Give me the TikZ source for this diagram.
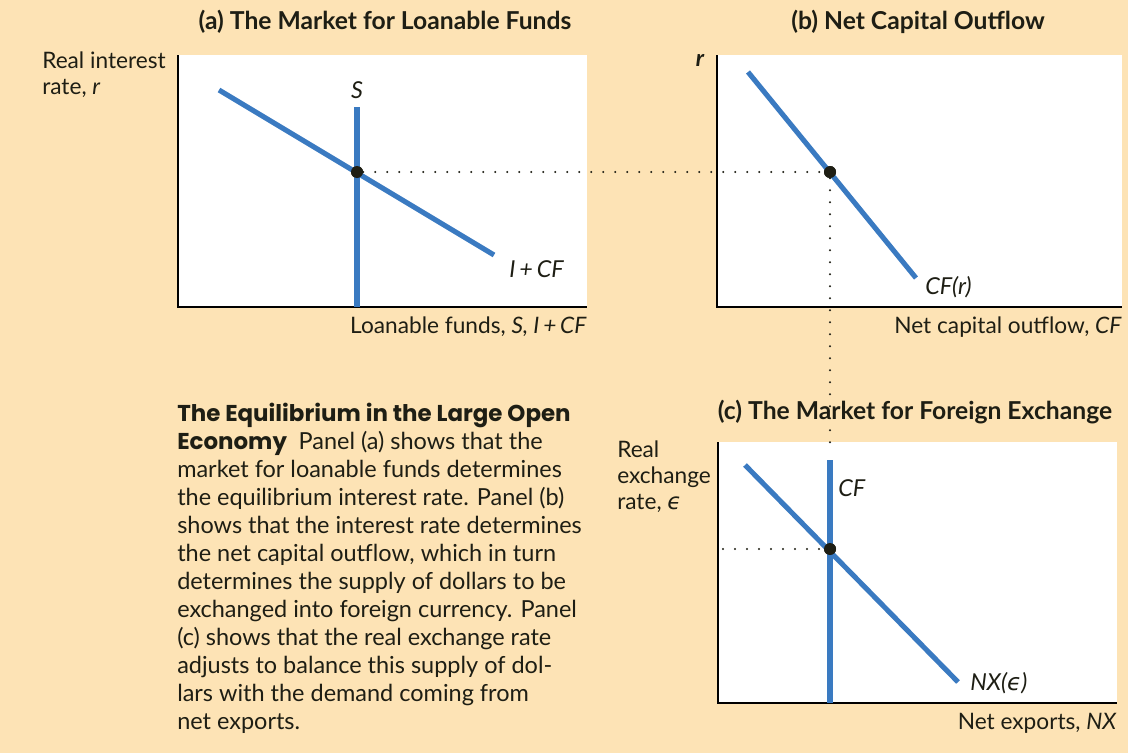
\documentclass[tikz,border=0pt]{standalone}
\usepackage{fontspec}
\setmainfont{Lato}
\newfontfamily\headfont{Poppins}
\newfontfamily\greekfont{DejaVu Sans}
\newcommand{\lunep}{{\greekfont\itshape ϵ}}
\definecolor{panelbg}{RGB}{253,227,181}
\definecolor{curveblue}{RGB}{58,122,193}
\definecolor{inkdark}{RGB}{30,30,20}

\begin{document}
\begin{tikzpicture}[
  x=0.75pt,y=-0.75pt,font=\fontsize{17.5}{19.5}\selectfont,text=inkdark,
  plotarea/.style={fill=white},
  axis/.style={draw=black,line width=1.1pt},
  curve/.style={draw=curveblue,line width=3.8pt},
  guide/.style={draw=inkdark,line width=1.7pt,line cap=round,dash pattern=on 0pt off 9pt},
  eqdot/.style={circle,fill=inkdark,inner sep=0pt,minimum size=9pt},
  ptitle/.style={font=\fontsize{18.5}{21}\selectfont\bfseries,inner sep=0pt},
  axlabel/.style={align=left,inner sep=0pt,font=\fontsize{17}{19.5}\selectfont},
  crvlabel/.style={inner sep=0pt,font=\fontsize{17.5}{19.5}\selectfont\itshape}
]
% ---------- background and plot areas
\fill[panelbg] (0,0) rectangle (1128,753);
\useasboundingbox (0,0) rectangle (1128,753);
\fill[plotarea] (178,55)  rectangle (587,307);
\fill[plotarea] (717,55)  rectangle (1122,307);
\fill[plotarea] (718,442) rectangle (1117,703);
\draw[axis] (178,55)  -- (178,307) -- (587,307);
\draw[axis] (717,55)  -- (717,307) -- (1122,307);
\draw[axis] (718,442) -- (718,703) -- (1117,703);
% ---------- panel titles
\node[ptitle] (ta) at (385,22)  {(a) The Market for Loanable Funds};
\node[ptitle] (tb) at (918,22)  {(b) Net Capital Outflow};
\node[ptitle] (tc) at (915,412) {(c) The Market for Foreign Exchange};
% ---------- key points
\coordinate (Dtop) at (219,90);   \coordinate (Dbot) at (494,255);
\coordinate (Stop) at (357,107);  \coordinate (Sbot) at (357,307);
\coordinate (Ctop) at (748,72);   \coordinate (Cbot) at (916,278);
\coordinate (Ftop) at (830,460);  \coordinate (Fbot) at (830,703);
\coordinate (Ntop) at (745,465);  \coordinate (Nbot) at (958,682);
\coordinate (gdown) at (830,450); \coordinate (gleft) at (723,549);
\node[eqdot] (Ea) at (357,172) {};
\node[eqdot] (Eb) at (830,172) {};
\node[eqdot] (Ec) at (830,549) {};
% ---------- guides
\draw[guide] (Ea) -- (Eb);
\draw[guide] (Eb) -- (gdown);
\draw[guide] (gleft) -- (Ec);
% ---------- curves
\draw[curve] (Dtop) -- (Dbot);
\draw[curve] (Stop) -- (Sbot);
\draw[curve] (Ctop) -- (Cbot);
\draw[curve] (Ftop) -- (Fbot);
\draw[curve] (Ntop) -- (Nbot);
\node[eqdot] at (Ea) {};
\node[eqdot] at (Eb) {};
\node[eqdot] at (Ec) {};
% ---------- curve labels
\node[crvlabel] (lS)  at (357,90)          {S};
\node[crvlabel,anchor=west] (lIC) at (509,269) {I\,+\,CF};
\node[crvlabel,anchor=west] (lCr) at (925,287) {CF(r)};
\node[crvlabel,anchor=west] (lCF) at (838,488) {CF};
\node[crvlabel,anchor=west] (lNX) at (970,683) {NX(\lunep)};
\node[crvlabel] (lr) at (700,60) {\bfseries r};
% ---------- axis labels
\node[axlabel,anchor=north west] (ya) at (42,52)  {Real interest\\rate, \textit{r}};
\node[axlabel,anchor=north west] (yc) at (617,441) {Real\\exchange\\rate, \lunep};
\node[axlabel,anchor=east] (xa) at (587,327)  {Loanable funds, \textit{S, I\,+\,CF}};
\node[axlabel,anchor=east] (xb) at (1122,327) {Net capital outflow, \textit{CF}};
\node[axlabel,anchor=east] (xc) at (1117,723) {Net exports, \textit{NX}};
% ---------- caption
\node[anchor=north west,inner sep=0pt,align=left,font=\fontsize{17.6}{21}\selectfont] (cap) at (177,403)
  {{\headfont\fontsize{17.2}{21}\selectfont\bfseries The Equilibrium in the Large Open}\\
   {\headfont\fontsize{17.2}{21}\selectfont\bfseries Economy}\enspace Panel (a) shows that the\\
   market for loanable funds determines\\
   the equilibrium interest rate. Panel (b)\\
   shows that the interest rate determines\\
   the net capital outflow, which in turn\\
   determines the supply of dollars to be\\
   exchanged into foreign currency. Panel\\
   (c) shows that the real exchange rate\\
   adjusts to balance this supply of dol-\\
   lars with the demand coming from\\
   net exports.};
\end{tikzpicture}
\end{document}
